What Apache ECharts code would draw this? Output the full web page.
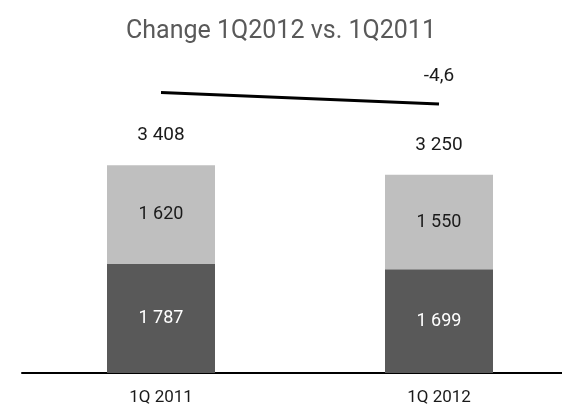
<!DOCTYPE html>
<html>
<head>
<meta charset="utf-8">
<script src="https://cdn.jsdelivr.net/npm/echarts@6/dist/echarts.min.js"></script>
<style>
  html, body { margin: 0; padding: 0; background: #fff; }
  #chart { width: 562px; height: 409px; }
</style>
</head>
<body>
<div id="chart"></div>
<script>
const categories = ['1Q 2011', '1Q 2012'];
const baseValues = [1787, 1699];
const upperValues = [1620, 1550];
const totals = [3408, 3250];
const trendLine = [4600, 4410];

const FONT = "Roboto, 'DejaVu Sans Condensed', sans-serif";

function fmt(v) {
  return String(v).replace(/\B(?=(\d{3})+(?!\d))/g, ' ');
}

// percentage change between the two quarter totals, decimal comma
const changePct = ((totals[1] - totals[0]) / totals[0] * 100).toFixed(1).replace('.', ',');

const chart = echarts.init(document.getElementById('chart'));
chart.setOption({
  animation: false,
  title: {
    text: 'Change 1Q2012 vs. 1Q2011',
    left: 'center',
    top: 14,
    textStyle: { fontFamily: FONT, fontSize: 25, fontWeight: 'normal', color: '#595959' }
  },
  grid: { left: 22, width: 556, top: 68, bottom: 36, outerBoundsMode: 'none', containLabel: false },
  xAxis: {
    type: 'category',
    data: categories,
    axisLine: { lineStyle: { color: '#000', width: 2 } },
    axisTick: { show: false },
    axisLabel: { fontFamily: FONT, fontSize: 17, color: '#1a1a1a', margin: 16 }
  },
  yAxis: {
    type: 'value',
    min: 0,
    max: 5000,
    show: false,
    splitLine: { show: false }
  },
  series: [
    {
      type: 'bar',
      stack: 'total',
      data: baseValues,
      barWidth: 108,
      itemStyle: { color: '#595959' },
      label: { show: true, position: 'inside', color: '#fff', fontFamily: FONT, fontSize: 18,
        formatter: p => fmt(p.value) }
    },
    {
      type: 'bar',
      stack: 'total',
      data: upperValues,
      barWidth: 108,
      itemStyle: { color: '#bfbfbf' },
      label: { show: true, position: 'inside', color: '#1a1a1a', fontFamily: FONT, fontSize: 18,
        formatter: p => fmt(p.value) }
    },
    {
      // transparent overlay carrying the quarter totals above each stack
      type: 'bar',
      data: totals,
      barWidth: 108,
      barGap: '-100%',
      itemStyle: { color: 'rgba(0,0,0,0)' },
      label: { show: true, position: 'top', distance: 20, color: '#1a1a1a', fontFamily: FONT, fontSize: 19,
        formatter: p => fmt(p.value) },
      z: 1
    },
    {
      type: 'line',
      data: trendLine.map((v, i) => i === trendLine.length - 1
        ? { value: v, label: { show: true, position: 'top', distance: 18, formatter: changePct,
            color: '#1a1a1a', fontFamily: FONT, fontSize: 19 } }
        : v),
      symbol: 'circle',
      symbolSize: 0,
      lineStyle: { color: '#000', width: 3 },
      itemStyle: { color: '#000' },
      z: 5
    }
  ]
});
</script>
</body>
</html>
